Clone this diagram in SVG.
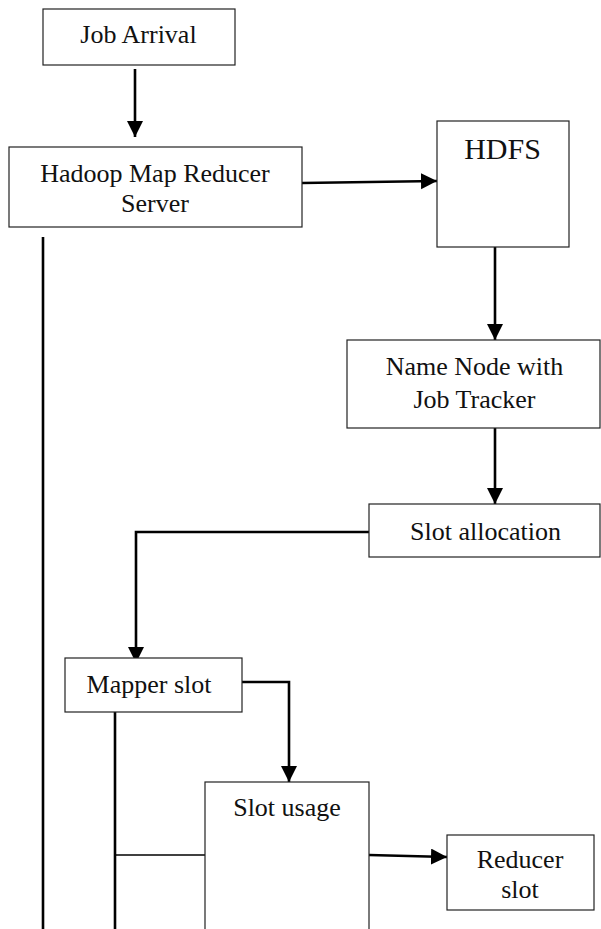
<svg xmlns="http://www.w3.org/2000/svg" width="601" height="929" viewBox="0 0 601 929">
<style>
.box{fill:#fff;stroke:#222;stroke-width:1.2}
.t{font-family:"Liberation Serif","Times New Roman",serif;font-size:26px;fill:#111;text-anchor:middle}
.c{fill:none;stroke:#000;stroke-width:2.6}
.thin{fill:none;stroke:#000;stroke-width:1.6}
</style>
<defs>
<marker id="ah" markerUnits="userSpaceOnUse" markerWidth="17" markerHeight="17" refX="16" refY="8" orient="auto">
<path d="M0,0 L16,8 L0,16 z" fill="#000"/>
</marker>
</defs>
<rect width="601" height="929" fill="#fff"/>
<g id="connectors">
<path class="c" d="M135,69 V137" marker-end="url(#ah)"/>
<path class="c" d="M302,183 L437,181" marker-end="url(#ah)"/>
<path class="c" d="M495,243 V340" marker-end="url(#ah)"/>
<path class="c" d="M495,425 V504" marker-end="url(#ah)"/>
<path class="c" d="M369,532 H136 V663" marker-end="url(#ah)"/>
<path class="c" d="M242,682 H289 V782" marker-end="url(#ah)"/>
<path class="c" d="M369,855 L447,857" marker-end="url(#ah)"/>
<path class="c" d="M43,237 V929"/>
<path class="c" d="M115,712 V929"/>
<path class="thin" d="M115,855 H205"/>
</g>
<g id="job-arrival">
<rect class="box" x="43" y="9" width="192" height="56"/>
<text class="t" x="138.5" y="43">Job Arrival</text>
</g>
<g id="hadoop-server">
<rect class="box" x="9" y="147" width="293" height="80"/>
<text class="t" x="155" y="182">Hadoop Map Reducer</text>
<text class="t" x="155" y="212">Server</text>
</g>
<g id="hdfs">
<rect class="box" x="437" y="121" width="132" height="126"/>
<text class="t" x="502.5" y="159" style="font-size:30px">HDFS</text>
</g>
<g id="name-node">
<rect class="box" x="347" y="340" width="253" height="88"/>
<text class="t" x="474.5" y="375">Name Node with</text>
<text class="t" x="474.5" y="408">Job Tracker</text>
</g>
<g id="slot-allocation">
<rect class="box" x="369" y="504" width="231" height="53"/>
<text class="t" x="485.5" y="540">Slot allocation</text>
</g>
<g id="mapper-slot">
<rect class="box" x="65" y="658" width="177" height="54"/>
<text class="t" x="149" y="693">Mapper slot</text>
</g>
<g id="slot-usage">
<rect class="box" x="205" y="782" width="164" height="160"/>
<text class="t" x="287" y="816">Slot usage</text>
</g>
<g id="reducer-slot">
<rect class="box" x="447" y="835" width="147" height="75"/>
<text class="t" x="520" y="868">Reducer</text>
<text class="t" x="520" y="898">slot</text>
</g>
</svg>
